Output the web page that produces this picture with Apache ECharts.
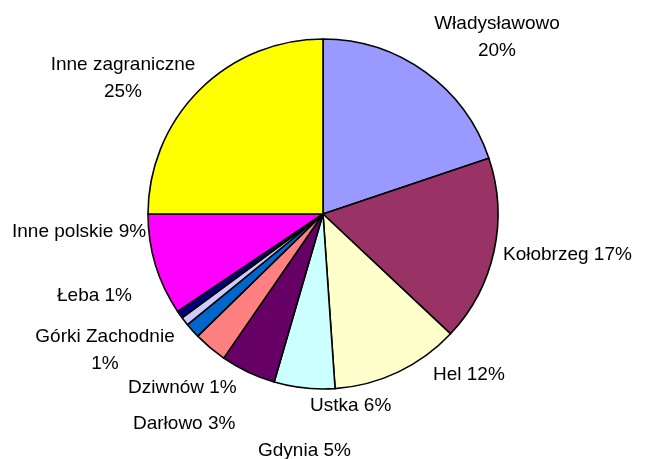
<!DOCTYPE html>
<html>
<head>
<meta charset="utf-8">
<script src="https://cdn.jsdelivr.net/npm/echarts@6/dist/echarts.min.js"></script>
<style>
  html, body { margin: 0; padding: 0; background: #ffffff; }
  #chart { width: 648px; height: 459px; }
</style>
</head>
<body>
<div id="chart"></div>
<script>
// Share of harbour calls by port (percent)
const ports = ['Władysławowo', 'Kołobrzeg', 'Hel', 'Ustka', 'Gdynia', 'Darłowo',
               'Dziwnów', 'Górki Zachodnie', 'Łeba', 'Inne polskie', 'Inne zagraniczne'];
const shares = [19.83, 17.17, 11.9, 5.6, 5.1, 3.1, 1.4, 0.8, 0.7, 9.4, 25.0];
const colors = ['#9999FF', '#993366', '#FFFFCC', '#CCFFFF', '#660066', '#FF8080',
                '#0066CC', '#CCCCFF', '#000080', '#FF00FF', '#FFFF00'];

// Names whose label is set on two lines
const twoLine = ['Władysławowo', 'Górki Zachodnie', 'Inne zagraniczne'];

// Label anchor points around the pie: [x, y, align]
const labelSpots = [
  [497, 37, 'center'],
  [503, 255, 'left'],
  [433, 375, 'left'],
  [310, 406, 'left'],
  [258, 451, 'left'],
  [133, 424, 'left'],
  [128, 388, 'left'],
  [105, 350, 'center'],
  [57, 296, 'left'],
  [12, 232, 'left'],
  [123, 78, 'center']
];

const data = ports.map((name, i) => ({
  name: name,
  value: shares[i],
  itemStyle: { color: colors[i] },
  label: {
    formatter: twoLine.includes(name) ? '{b}\n{d}%' : '{b} {d}%',
    align: labelSpots[i][2]
  }
}));

const chart = echarts.init(document.getElementById('chart'), null, { renderer: 'canvas' });
chart.setOption({
  backgroundColor: '#ffffff',
  animation: false,
  series: [{
    type: 'pie',
    center: [323, 214],
    radius: 175,
    startAngle: 90,
    clockwise: true,
    percentPrecision: 0,
    avoidLabelOverlap: false,
    itemStyle: { borderColor: '#000000', borderWidth: 1.6 },
    label: {
      show: true,
      position: 'outside',
      fontFamily: 'Liberation Sans, Arial, sans-serif',
      fontSize: 19,
      lineHeight: 27,
      color: '#000000'
    },
    labelLine: { show: false },
    labelLayout: function (p) {
      const s = labelSpots[p.dataIndex];
      return { x: s[0], y: s[1], align: s[2], verticalAlign: 'middle' };
    },
    emphasis: { disabled: true },
    data: data
  }]
});
</script>
</body>
</html>
